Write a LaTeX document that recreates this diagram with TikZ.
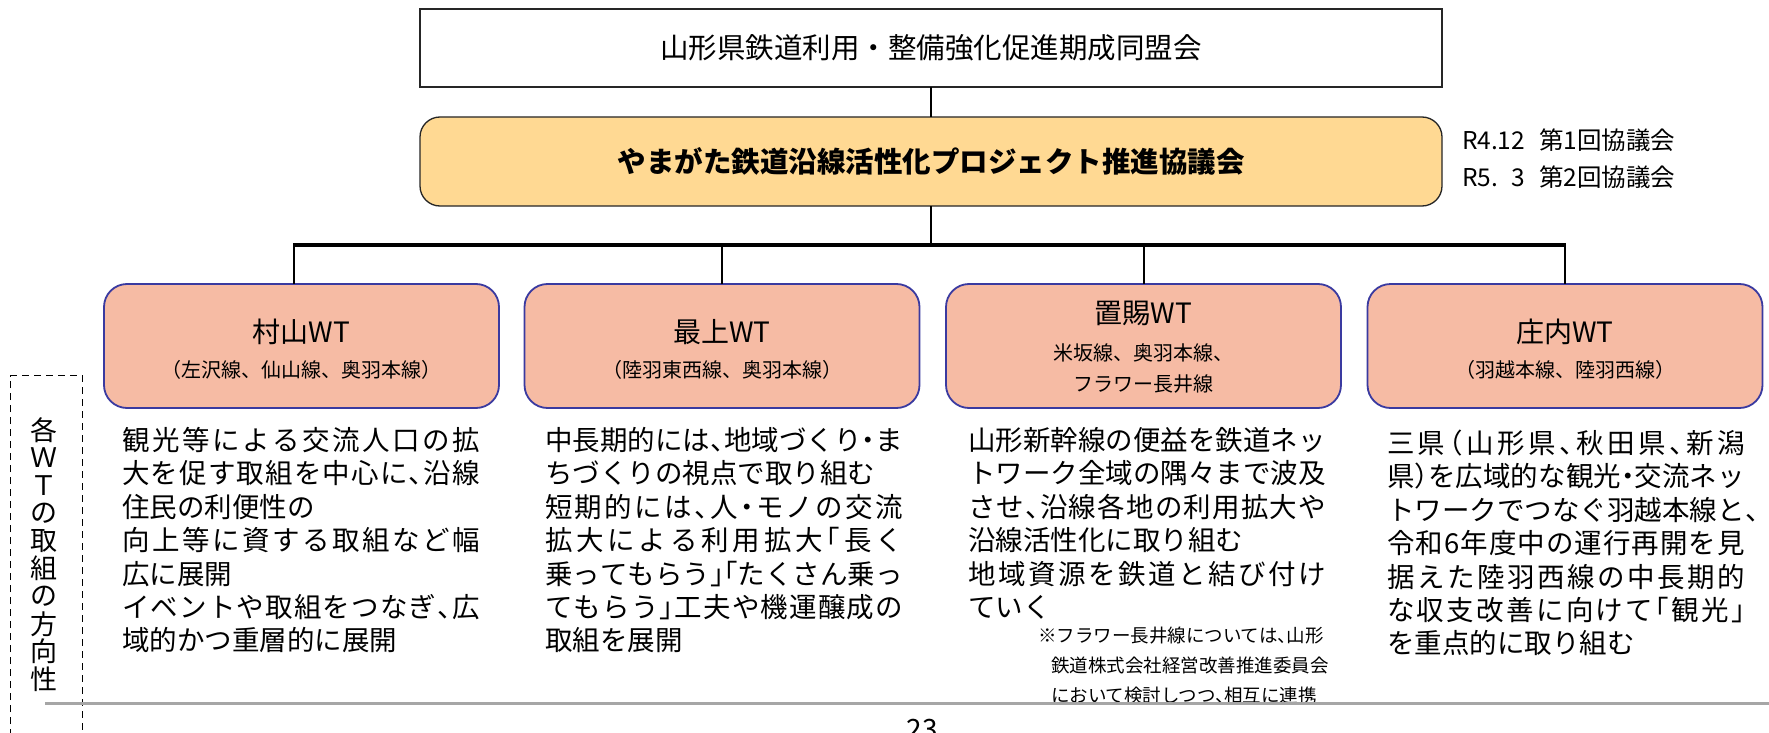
\documentclass[tikz,border=0pt]{standalone}
\usepackage{fontspec}
\setmainfont{Noto Sans CJK JP}
\newfontfamily\jph{Noto Sans CJK JP}[RawFeature=+halt]
\definecolor{councilfill}{HTML}{FFD993}
\definecolor{wtfill}{HTML}{F6BBA4}
\definecolor{wtblue}{HTML}{3A3AA0}
\definecolor{rulegray}{HTML}{A6A6A6}
\def\spA#1{#1\spB}
\def\spB#1{\ifx#1\relax\else\hskip 0pt plus 1fil\relax#1\expandafter\spB\fi}
\newcommand\jl[1]{\makebox[358pt][s]{\spA#1\relax}}
\newcommand\fstrut{\rule{0pt}{26pt}}
\begin{document}
\begin{tikzpicture}[x=1pt,y=-1pt,
  every node/.style={inner sep=0pt, outer sep=0pt},
  plainbox/.style={draw=black!85, line width=1.3pt, fill=white, minimum width=1022pt, minimum height=78pt},
  councilbox/.style={draw=black!85, line width=1.3pt, fill=councilfill, rounded corners=20pt, minimum width=1022pt, minimum height=89pt},
  wtbox/.style={draw=wtblue, line width=1.8pt, fill=wtfill, rounded corners=23pt, minimum width=395pt, minimum height=124pt},
  wttitle/.style={font=\fontsize{28}{30}\selectfont},
  wtsub/.style={font=\fontsize{20}{22}\selectfont},
  body/.style={font=\jph\fontsize{27.5}{33.4}\selectfont, align=left, anchor=north west},
  conn/.style={line width=2pt},
  sidetext/.style={font=\fontsize{24.5}{26}\selectfont, anchor=west}
]
\useasboundingbox (0,0) rectangle (1769,733);
\fill[white] (0,0) rectangle (1769,733);

% top boxes
\node[plainbox, font=\fontsize{28.5}{30}\selectfont] (alliance) at (931,48) {山形県鉄道利用・整備強化促進期成同盟会};
\node[councilbox, font=\bfseries\fontsize{28.5}{30}\selectfont] (council) at (931,161.5) {やまがた鉄道沿線活性化プロジェクト推進協議会};

\node[sidetext] (r4) at (1462,140) {R4.12\hspace{14pt}第1回協議会};
\node[sidetext] (r5) at (1462,177) {\rlap{R5.}\phantom{R4.1}3\hspace{14pt}第2回協議会};

% WT boxes
\node[wtbox] (wt1) at (301.5,346) {};
\node[wtbox] (wt2) at (722,346) {};
\node[wtbox] (wt3) at (1143.5,346) {};
\node[wtbox] (wt4) at (1565,346) {};

\node[wttitle] (wt1t) at (301.5,332) {村山WT};
\node[wtsub] (wt1s) at (301.5,370) {（左沢線、仙山線、奥羽本線）};
\node[wttitle] (wt2t) at (722,332) {最上WT};
\node[wtsub] (wt2s) at (722,370) {（陸羽東西線、奥羽本線）};
\node[wttitle] (wt3t) at (1143.5,313) {置賜WT};
\node[wtsub] (wt3s) at (1143.5,353) {米坂線、奥羽本線、};
\node[wtsub] (wt3u) at (1143.5,384) {フラワー長井線};
\node[wttitle] (wt4t) at (1565,332) {庄内WT};
\node[wtsub] (wt4s) at (1565,370) {（羽越本線、陸羽西線）};

% connectors
\coordinate (bus) at (931,245);
\coordinate (busL) at (294,245);
\coordinate (busR) at (wt4.north |- bus);
\draw[line width=1.5pt] (alliance.south) -- (council.north);
\draw[line width=2pt] (council.south) -- (bus);
\draw[line width=3.2pt] ([xshift=-1pt]busL) -- ([xshift=1pt]busR);
\draw[conn] (busL) -- (busL |- wt1.north);
\draw[conn] (wt2.north |- bus) -- (wt2.north);
\draw[conn] (wt3.north |- bus) -- (wt3.north);
\draw[conn] (busR) -- (wt4.north);

% body texts
\node[body] (b1) at (122,424.5) {\fstrut\jl{観光等による交流人口の拡}\\
\jl{大を促す取組を中心に、沿線}\\
住民の利便性の\\
\jl{向上等に資する取組など幅}\\
広に展開\\
\jl{イベントや取組をつなぎ、広}\\
域的かつ重層的に展開};

\node[body] (b2) at (545,424.5) {\fstrut\jl{中長期的には、地域づくり・ま}\\
ちづくりの視点で取り組む\\
\jl{短期的には、人・モノの交流}\\
\jl{拡大による利用拡大「長く}\\
\jl{乗ってもらう」「たくさん乗っ}\\
\jl{てもらう」工夫や機運醸成の}\\
取組を展開};

\node[body] (b3) at (968,424.5) {\fstrut\jl{山形新幹線の便益を鉄道ネッ}\\
\jl{トワーク全域の隅々まで波及}\\
\jl{させ、沿線各地の利用拡大や}\\
沿線活性化に取り組む\\
\jl{地域資源を鉄道と結び付け}\\
ていく};

\node[body] (b4) at (1387,427.5) {\fstrut\jl{三県（山形県、秋田県、新潟}\\
\jl{県）を広域的な観光・交流ネッ}\\
\jl{トワークでつなぐ羽越本線と}、\\
\jl{令和6年度中の運行再開を見}\\
\jl{据えた陸羽西線の中長期的}\\
\jl{な収支改善に向けて「観光」}\\
を重点的に取り組む};

\node[font=\jph\fontsize{18.5}{30}\selectfont, align=left, anchor=north west] (note) at (1038,625) {\rule{0pt}{17pt}※フラワー長井線については、山形\\
\hspace*{13pt}鉄道株式会社経営改善推進委員会\\
\hspace*{13pt}において検討しつつ、相互に連携};

% side label
\begin{scope}
\clip (0,0) rectangle (1769,733);
\draw[line width=1.8pt, dash pattern=on 7pt off 5pt] (10.5,760) -- (10.5,375.5) -- (82.5,375.5) -- (82.5,760);
\end{scope}
\foreach \c [count=\i] in {各,Ｗ,Ｔ,の,取,組,の,方,向,性}
  \node[font=\fontsize{27}{28}\selectfont] (v\i) at (43.5,{430+27.7*(\i-1)}) {\c};

% bottom rule and page number
\draw[rulegray, line width=3pt] (45,703) -- (1769,703);
\node[font=\fontsize{28}{30}\selectfont, anchor=north] (page) at (922,719) {23};
\end{tikzpicture}
\end{document}
